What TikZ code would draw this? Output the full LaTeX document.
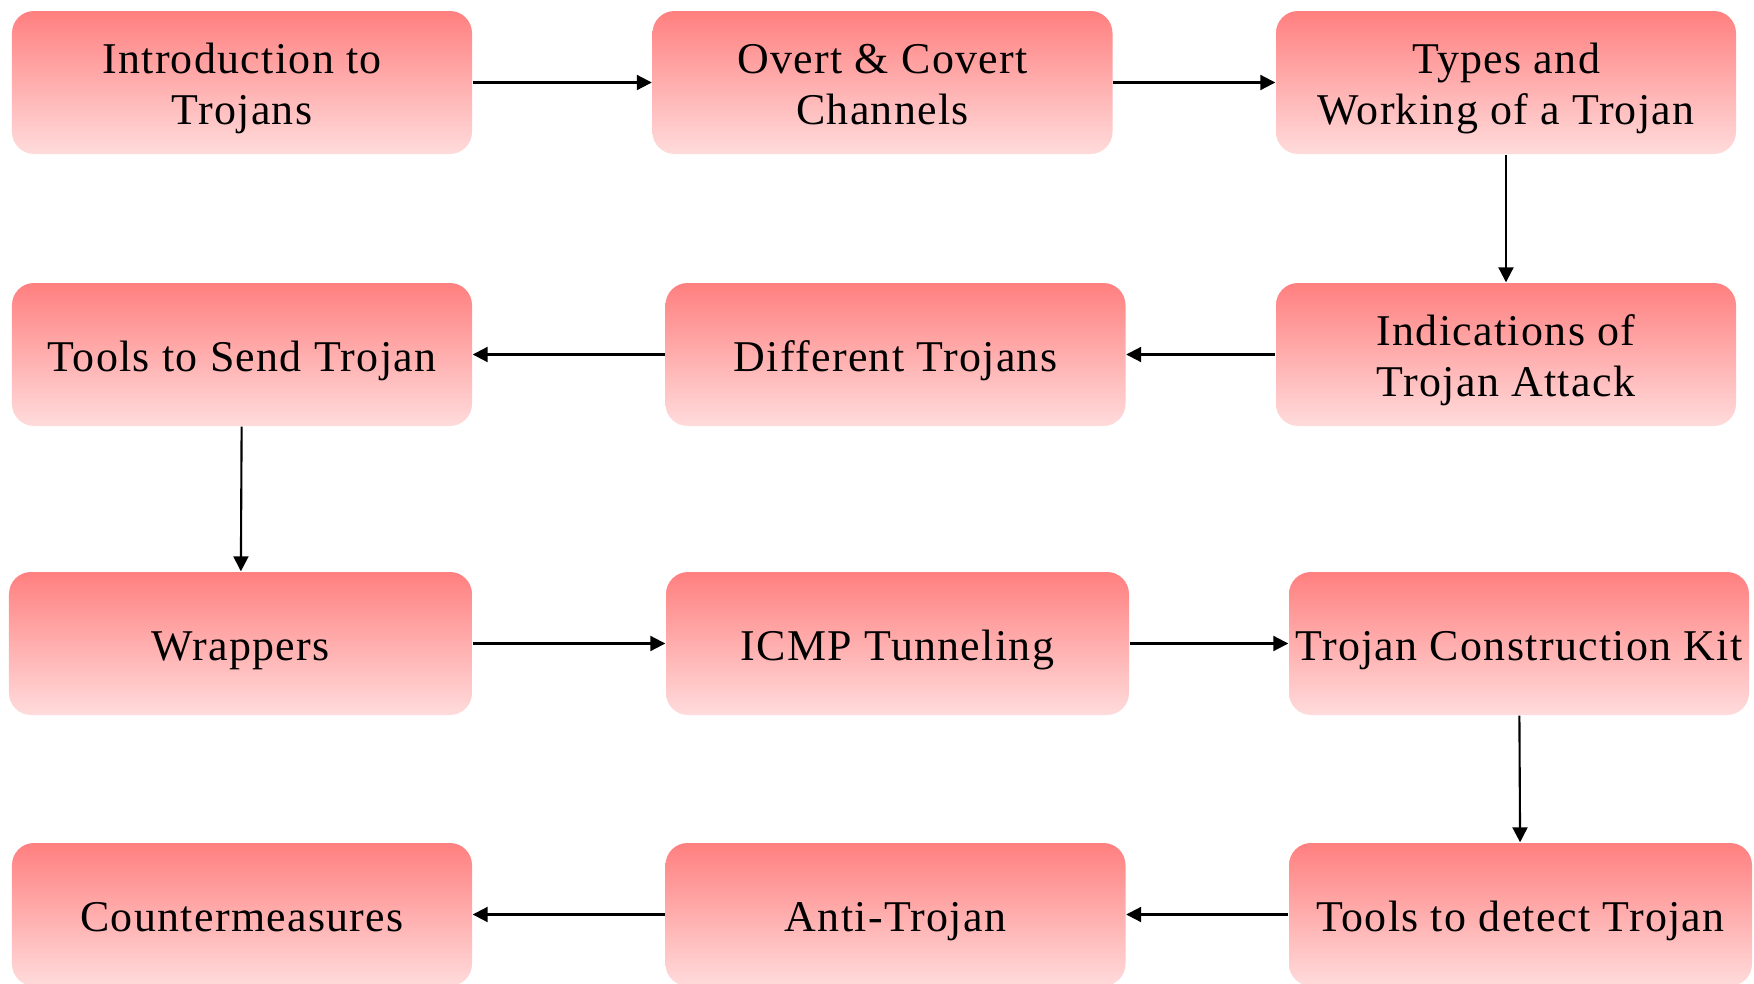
\documentclass[tikz,border=0pt]{standalone}
\usepackage{fontspec}
\setmainfont{Liberation Serif}[LetterSpace=3]
\usepackage{tikz}
\usetikzlibrary{arrows.meta}

\begin{document}
\begin{tikzpicture}[
    etape/.style={rectangle, rounded corners=0.22cm, top color=red!50, bottom color=red!14,
        draw=none, minimum width=4.6cm, minimum height=1.43cm, align=center,
        font=\fontsize{12.5}{14.5}\selectfont, inner sep=0pt,
        execute at begin node={\rule{0pt}{12.4pt}},
        execute at end node={\rule[-2.8pt]{0pt}{0pt}}},
    etapedouble/.style={etape, execute at begin node={\rule{0pt}{26.8pt}}},
    fleche/.style={-{Triangle[length=0.15cm,width=0.15cm]}, line width=0.6pt}
]
        % Cadre
            \useasboundingbox (0,0) rectangle (17.54,-9.84);
        % Ligne 1
            \node[etapedouble] (intro) at (2.42,-0.825) {Introduction to\\Trojans};
            \node[etapedouble] (canaux) at (8.825,-0.825) {Overt \& Covert\\Channels};
            \node[etapedouble] (types) at (15.06,-0.825) {Types and\\Working of a Trojan};
        % Ligne 2
            \node[etapedouble] (indic) at (15.06,-3.545) {Indications of\\Trojan Attack};
            \node[etape] (diff) at (8.955,-3.545) {Different Trojans};
            \node[etape] (envoi) at (2.42,-3.545) {Tools to Send Trojan};
        % Ligne 3
            \node[etape, minimum width=4.63cm] (wrap) at (2.405,-6.435) {Wrappers};
            \node[etape, minimum width=4.63cm] (icmp) at (8.975,-6.435) {ICMP Tunneling};
            \node[etape] (kit) at (15.19,-6.435) {Trojan Construction Kit};
        % Ligne 4
            \node[etape, minimum width=4.63cm] (detect) at (15.205,-9.145) {Tools to detect Trojan};
            \node[etape] (anti) at (8.955,-9.145) {Anti-Trojan};
            \node[etape] (contre) at (2.42,-9.145) {Countermeasures};
        % Fleches
            \draw[fleche] (intro) -- (canaux);
            \draw[fleche] (canaux) -- (types);
            \draw[fleche] (types) -- (indic);
            \draw[fleche] (indic) -- (diff);
            \draw[fleche] (diff) -- (envoi);
            \draw[fleche] (envoi) -- (wrap);
            \draw[fleche] (wrap) -- (icmp);
            \draw[fleche] (icmp) -- (kit);
            \draw[fleche] (kit) -- (detect);
            \draw[fleche] (detect) -- (anti);
            \draw[fleche] (anti) -- (contre);
     \end{tikzpicture}
\end{document}
